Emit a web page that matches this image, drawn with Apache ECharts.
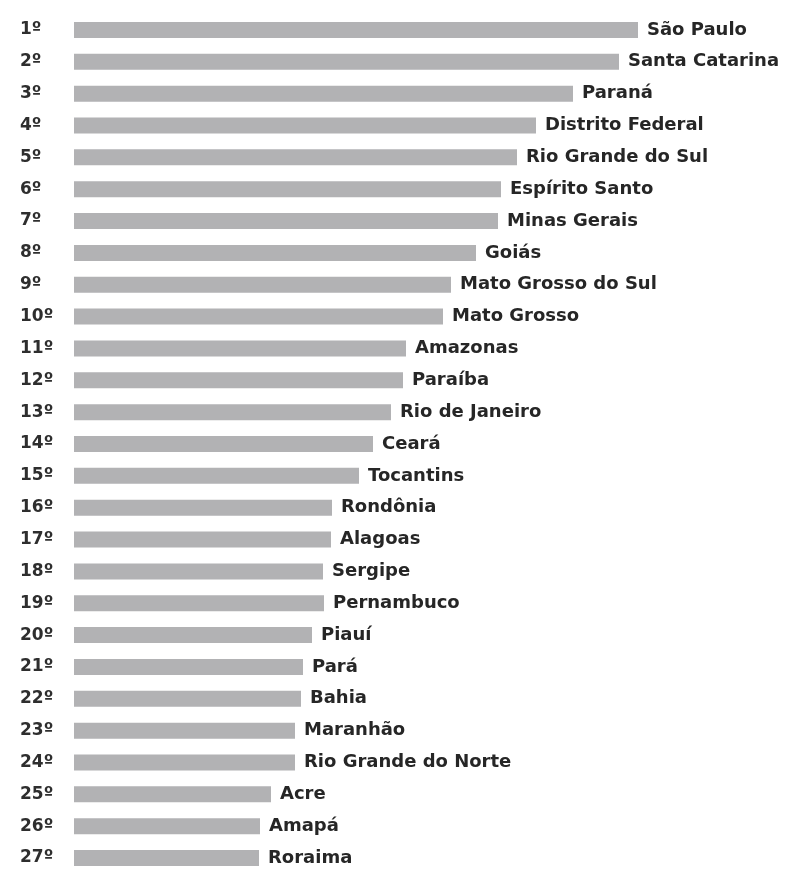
<!DOCTYPE html>
<html>
<head>
<meta charset="utf-8">
<script src="https://cdn.jsdelivr.net/npm/echarts@6/dist/echarts.min.js"></script>
<style>
  html, body { margin: 0; padding: 0; background: #fff; }
  #chart { width: 794px; height: 874px; }
</style>
</head>
<body>
<div id="chart"></div>
<script>
  // ranking labels on the left
  const ranks = ["1º", "2º", "3º", "4º", "5º", "6º", "7º", "8º", "9º", "10º",
    "11º", "12º", "13º", "14º", "15º", "16º", "17º", "18º", "19º", "20º",
    "21º", "22º", "23º", "24º", "25º", "26º", "27º"];

  const states = ["São Paulo", "Santa Catarina", "Paraná", "Distrito Federal",
    "Rio Grande do Sul", "Espírito Santo", "Minas Gerais", "Goiás",
    "Mato Grosso do Sul", "Mato Grosso", "Amazonas", "Paraíba",
    "Rio de Janeiro", "Ceará", "Tocantins", "Rondônia", "Alagoas", "Sergipe",
    "Pernambuco", "Piauí", "Pará", "Bahia", "Maranhão", "Rio Grande do Norte",
    "Acre", "Amapá", "Roraima"];

  // bar lengths (no scale shown)
  const values = [564, 545, 499, 462, 443, 427, 424, 402, 377, 369,
    332, 329, 317, 299, 285, 258, 257, 249, 250, 238,
    229, 227, 221, 221, 197, 186, 185];

  let myChart = echarts.init(document.getElementById("chart"));

  let option = {
    animation: false,
    backgroundColor: "#ffffff",
    grid: {
      left: 74,
      right: 0,
      top: 14,
      height: 862,
    },
    xAxis: {
      type: "value",
      min: 0,
      max: 720,
      show: false,
    },
    yAxis: {
      type: "category",
      inverse: true,
      data: ranks,
      axisLine: { show: false },
      axisTick: { show: false },
      axisLabel: {
        align: "left",
        margin: 54,
        color: "#2e2e2e",
        fontFamily: "DejaVu Sans",
        fontWeight: "bold",
        fontSize: 17,
        padding: [3, 0, 0, 0],
      },
    },
    series: [
      {
        type: "bar",
        data: values,
        barWidth: 16,
        itemStyle: { color: "#b2b2b4" },
        label: {
          show: true,
          position: "right",
          distance: 9,
          color: "#262626",
          fontFamily: "DejaVu Sans",
          fontWeight: "bold",
          fontSize: 18,
          formatter: function (p) {
            return states[p.dataIndex];
          },
        },
      },
    ],
  };

  myChart.setOption(option);
</script>
</body>
</html>
